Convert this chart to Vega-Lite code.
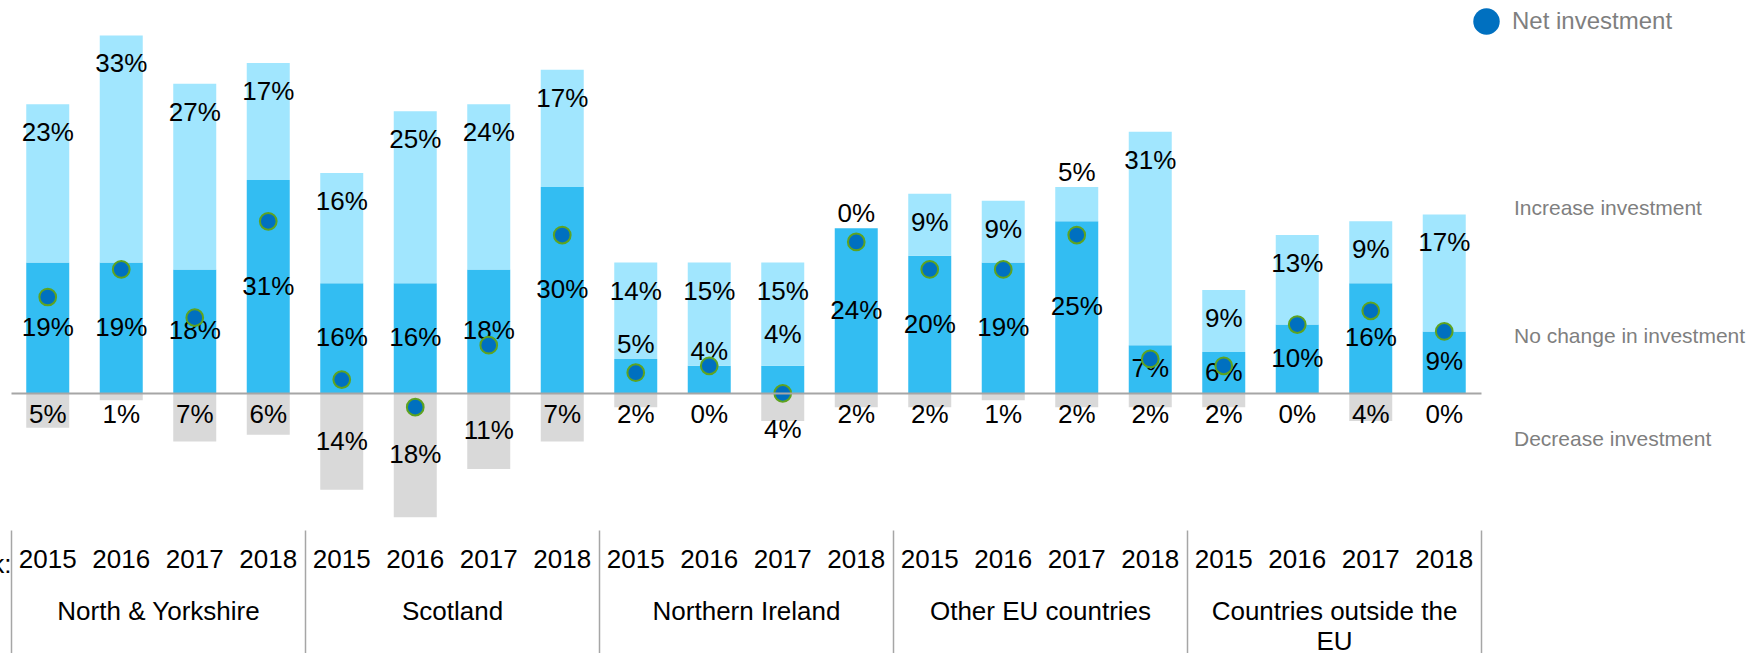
{
  "$schema": "https://vega.github.io/schema/vega-lite/v6.json",
  "width": 1470,
  "height": 530,
  "autosize": {"type": "none"},
  "padding": {"left": 11, "top": 0, "right": 283, "bottom": 123},
  "background": "white",
  "config": {"font": "Liberation Sans", "view": {"stroke": null}},
  "data": {"values": [
    {"region": "North & Yorkshire", "year": "2015", "increase": 0.19, "no_change": 0.23, "decrease": 0.05, "net": 0.14},
    {"region": "North & Yorkshire", "year": "2016", "increase": 0.19, "no_change": 0.33, "decrease": 0.01, "net": 0.18},
    {"region": "North & Yorkshire", "year": "2017", "increase": 0.18, "no_change": 0.27, "decrease": 0.07, "net": 0.11},
    {"region": "North & Yorkshire", "year": "2018", "increase": 0.31, "no_change": 0.17, "decrease": 0.06, "net": 0.25},
    {"region": "Scotland", "year": "2015", "increase": 0.16, "no_change": 0.16, "decrease": 0.14, "net": 0.02},
    {"region": "Scotland", "year": "2016", "increase": 0.16, "no_change": 0.25, "decrease": 0.18, "net": -0.02},
    {"region": "Scotland", "year": "2017", "increase": 0.18, "no_change": 0.24, "decrease": 0.11, "net": 0.07},
    {"region": "Scotland", "year": "2018", "increase": 0.30, "no_change": 0.17, "decrease": 0.07, "net": 0.23},
    {"region": "Northern Ireland", "year": "2015", "increase": 0.05, "no_change": 0.14, "decrease": 0.02, "net": 0.03},
    {"region": "Northern Ireland", "year": "2016", "increase": 0.04, "no_change": 0.15, "decrease": 0.00, "net": 0.04},
    {"region": "Northern Ireland", "year": "2017", "increase": 0.04, "no_change": 0.15, "decrease": 0.04, "net": 0.00},
    {"region": "Northern Ireland", "year": "2018", "increase": 0.24, "no_change": 0.00, "decrease": 0.02, "net": 0.22},
    {"region": "Other EU countries", "year": "2015", "increase": 0.20, "no_change": 0.09, "decrease": 0.02, "net": 0.18},
    {"region": "Other EU countries", "year": "2016", "increase": 0.19, "no_change": 0.09, "decrease": 0.01, "net": 0.18},
    {"region": "Other EU countries", "year": "2017", "increase": 0.25, "no_change": 0.05, "decrease": 0.02, "net": 0.23},
    {"region": "Other EU countries", "year": "2018", "increase": 0.07, "no_change": 0.31, "decrease": 0.02, "net": 0.05},
    {"region": "Countries outside the EU", "year": "2015", "increase": 0.06, "no_change": 0.09, "decrease": 0.02, "net": 0.04},
    {"region": "Countries outside the EU", "year": "2016", "increase": 0.10, "no_change": 0.13, "decrease": 0.00, "net": 0.10},
    {"region": "Countries outside the EU", "year": "2017", "increase": 0.16, "no_change": 0.09, "decrease": 0.04, "net": 0.12},
    {"region": "Countries outside the EU", "year": "2018", "increase": 0.09, "no_change": 0.17, "decrease": 0.00, "net": 0.09}
  ]},
  "encoding": {
    "x": {
      "field": "region", "type": "nominal", "sort": null,
      "scale": {"paddingInner": 0, "paddingOuter": 0},
      "axis": {
        "title": "k:", "titleX": 0, "titleY": 34.5, "titleAlign": "right", "titleBaseline": "middle", "titleAngle": 0,
        "titleFontSize": 26, "titleFontWeight": "normal", "titleColor": "#000000",
        "domain": false, "ticks": true, "tickBand": "extent", "tickSize": 123, "tickColor": "#A6A6A6", "tickWidth": 1.5,
        "labelFontSize": 26, "labelColor": "#000000", "labelBaseline": "top", "labelPadding": -55, "labelLimit": 0,
        "labelOverlap": false, "labelAngle": 0, "labelLineHeight": 30,
        "labelExpr": "datum.value == 'Countries outside the EU' ? ['Countries outside the', 'EU'] : datum.value"
      }
    },
    "xOffset": {"field": "year", "type": "ordinal", "scale": {"paddingInner": 0.415, "paddingOuter": 0.2075}}
  },
  "layer": [
    {
      "layer": [
        {
          "mark": {"type": "bar", "color": "#D9D9D9", "strokeWidth": 0},
          "encoding": {
            "y": {"field": "decrease", "type": "quantitative", "scale": {"domain": [-0.5715, 0.1985], "reverse": true, "nice": false, "zero": false}, "axis": null},
            "stroke": {"datum": "Decrease investment", "type": "nominal", "scale": {"range": ["#D9D9D9"]},
                       "legend": {"orient": "none", "legendX": 1482, "legendY": 429, "title": null, "symbolOpacity": 0, "symbolStrokeWidth": 0, "symbolSize": 1, "symbolType": "square", "labelOffset": 0, "labelFontSize": 21, "labelColor": "#7F7F7F", "labelLimit": 0, "padding": 0}}
          }
        },
        {
          "transform": [{"filter": "datum.decrease <= 0.07 && datum.net != 0"}],
          "mark": {"type": "text", "fontSize": 26, "yOffset": 22, "baseline": "middle"},
          "encoding": {
            "y": {"datum": 0, "axis": null},
            "text": {"field": "decrease", "type": "quantitative", "format": ".0%"}
          }
        },
        {
          "transform": [{"filter": "datum.decrease <= 0.07 && datum.net == 0"}],
          "mark": {"type": "text", "fontSize": 26, "yOffset": 37, "baseline": "middle"},
          "encoding": {
            "y": {"datum": 0, "axis": null},
            "text": {"field": "decrease", "type": "quantitative", "format": ".0%"}
          }
        },
        {
          "transform": [{"filter": "datum.decrease > 0.07"}],
          "mark": {"type": "text", "fontSize": 26, "baseline": "middle"},
          "encoding": {
            "y": {"field": "decrease", "type": "quantitative", "stack": "zero", "bandPosition": 0.5, "axis": null},
            "text": {"field": "decrease", "type": "quantitative", "format": ".0%"}
          }
        }
      ]
    },
    {
      "layer": [
        {
          "transform": [{"fold": ["increase", "no_change"], "as": ["key", "value"]}],
          "mark": {"type": "bar"},
          "encoding": {
            "y": {"field": "value", "type": "quantitative", "stack": "zero",
                  "scale": {"domain": [-0.1985, 0.5715], "nice": false, "zero": false},
                  "axis": {"values": [0], "grid": true, "gridColor": "#A6A6A6", "gridWidth": 2, "domain": false, "ticks": false, "labels": false, "title": null, "zindex": 1}},
            "color": {"field": "key", "type": "nominal",
                      "scale": {"domain": ["increase", "no_change"], "range": ["#33BDF2", "#A1E6FE"]},
                      "legend": {"orient": "none", "legendX": 1482, "legendY": 198, "title": null, "symbolOpacity": 0, "symbolStrokeWidth": 0, "symbolSize": 1, "symbolType": "square", "labelOffset": 0, "labelFontSize": 21, "labelColor": "#7F7F7F", "rowPadding": 106, "labelLimit": 0, "padding": 0,
                                 "labelExpr": "datum.label == 'increase' ? 'Increase investment' : 'No change in investment'"}},
            "order": {"field": "key", "type": "nominal", "sort": "ascending"}
          }
        },
        {
          "transform": [{"fold": ["increase", "no_change"], "as": ["key", "value"]}],
          "mark": {"type": "text", "fontSize": 26, "baseline": "middle"},
          "encoding": {
            "y": {"field": "value", "type": "quantitative", "stack": "zero", "bandPosition": 0.5},
            "detail": {"field": "key", "type": "nominal"},
            "order": {"field": "key", "type": "nominal", "sort": "ascending"},
            "text": {"condition": {"test": "datum.key === 'increase' && datum.value >= 0.06", "field": "value", "type": "quantitative", "format": ".0%"}, "value": ""}
          }
        },
        {
          "transform": [{"fold": ["increase", "no_change"], "as": ["key", "value"]}],
          "mark": {"type": "text", "fontSize": 26, "baseline": "middle", "yOffset": -14},
          "encoding": {
            "y": {"field": "value", "type": "quantitative", "stack": "zero"},
            "detail": {"field": "key", "type": "nominal"},
            "order": {"field": "key", "type": "nominal", "sort": "ascending"},
            "text": {"condition": {"test": "datum.key === 'increase' && datum.value < 0.06 && datum.net != 0", "field": "value", "type": "quantitative", "format": ".0%"}, "value": ""}
          }
        },
        {
          "transform": [{"fold": ["increase", "no_change"], "as": ["key", "value"]}],
          "mark": {"type": "text", "fontSize": 26, "baseline": "middle", "yOffset": -31},
          "encoding": {
            "y": {"field": "value", "type": "quantitative", "stack": "zero"},
            "detail": {"field": "key", "type": "nominal"},
            "order": {"field": "key", "type": "nominal", "sort": "ascending"},
            "text": {"condition": {"test": "datum.key === 'increase' && datum.value < 0.06 && datum.net == 0", "field": "value", "type": "quantitative", "format": ".0%"}, "value": ""}
          }
        },
        {
          "transform": [{"fold": ["increase", "no_change"], "as": ["key", "value"]}],
          "mark": {"type": "text", "fontSize": 26, "baseline": "middle", "yOffset": 29},
          "encoding": {
            "y": {"field": "value", "type": "quantitative", "stack": "zero"},
            "detail": {"field": "key", "type": "nominal"},
            "order": {"field": "key", "type": "nominal", "sort": "ascending"},
            "text": {"condition": {"test": "datum.key === 'no_change' && datum.value >= 0.09", "field": "value", "type": "quantitative", "format": ".0%"}, "value": ""}
          }
        },
        {
          "transform": [{"fold": ["increase", "no_change"], "as": ["key", "value"]}],
          "mark": {"type": "text", "fontSize": 26, "baseline": "middle", "yOffset": -14},
          "encoding": {
            "y": {"field": "value", "type": "quantitative", "stack": "zero"},
            "detail": {"field": "key", "type": "nominal"},
            "order": {"field": "key", "type": "nominal", "sort": "ascending"},
            "text": {"condition": {"test": "datum.key === 'no_change' && datum.value < 0.09", "field": "value", "type": "quantitative", "format": ".0%"}, "value": ""}
          }
        },
        {
          "mark": {"type": "circle", "size": 280, "stroke": "#5EA320", "strokeWidth": 2, "opacity": 1},
          "encoding": {
            "y": {"field": "net", "type": "quantitative"},
            "fill": {"datum": "Net investment", "type": "nominal", "scale": {"range": ["#0070C0"]},
                     "legend": {"orient": "none", "legendX": 1462, "legendY": 8, "title": null, "symbolType": "circle", "symbolSize": 700, "symbolStrokeWidth": 0, "symbolOpacity": 1, "labelOffset": 12, "labelFontSize": 24, "labelColor": "#7F7F7F", "labelLimit": 0, "padding": 0}}
          }
        },
        {
          "mark": {"type": "text", "fontSize": 26, "baseline": "middle"},
          "encoding": {
            "y": {"datum": -0.2423},
            "text": {"field": "year", "type": "nominal"}
          }
        }
      ]
    }
  ],
  "resolve": {"scale": {"y": "independent"}}
}
